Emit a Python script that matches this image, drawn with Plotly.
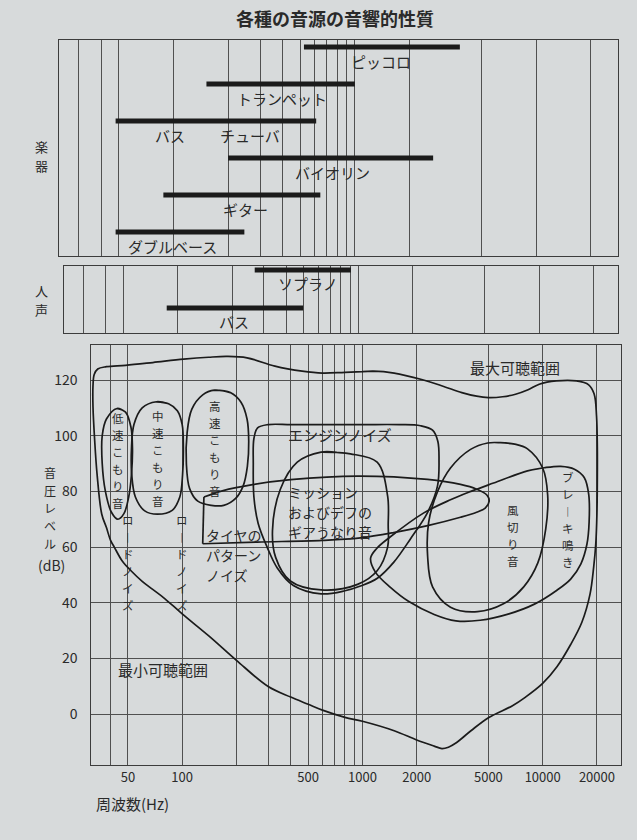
import math
import plotly.graph_objects as go

# ---------------- data ----------------
TITLE = "各種の音源の音響的性質"

INSTRUMENTS = ["ピッコロ", "トランペット", "バス チューバ", "バイオリン", "ギター", "ダブルベース"]
INST_LOW = [524, 152, 48, 200, 88, 48]
INST_HIGH = [3790, 1000, 612, 2700, 645, 246]

VOICES = ["ソプラノ", "バス"]
VOICE_LOW = [267, 87]
VOICE_HIGH = [910, 495]

GRID_TOP = [30, 40, 50, 100, 200, 300, 400, 500, 600, 700, 800, 900, 1000, 2000, 5000, 10000, 20000]
GRID_BOTTOM = [40, 50, 100, 200, 300, 400, 500, 600, 700, 800, 900, 1000, 2000, 5000, 10000, 20000]
FREQ_TICKTEXT = ["", "50", "100", "", "", "", "500", "", "", "", "", "1000", "2000", "5000", "10000", "20000"]
DB_TICKS = [0, 20, 40, 60, 80, 100, 120]

# hearing area: max audible (top) + min audible (bottom), closed loop (Hz, dB)
OUTER_F = [1000, 1150, 1500, 2130, 2800, 3560, 4300, 5000, 6000, 7070, 8300, 9570, 11900, 15400, 18000,
           19300, 19900, 20100, 20100, 20000, 19700, 19200, 18300, 16500, 14300, 12000, 10000, 8000, 6800,
           5000, 4000, 3300, 3000, 2760, 2500, 2000, 1500, 1000, 800, 600, 500, 400, 300, 200, 141, 100,
           80, 68.6, 60, 52, 46.5, 42, 40, 38, 35.8, 33.7, 32.7, 32, 32, 32.5, 34, 38, 48.5, 68.7, 102,
           140, 177, 229, 327, 463, 600, 800, 1000]
OUTER_DB = [123, 123.2, 122.5, 120.2, 117.8, 115.5, 114.2, 113.7, 114, 114.9, 116.5, 118.5, 119.7, 119.7, 118.3,
            115, 107, 96, 84, 72, 61, 53, 43, 33, 25, 17, 11, 6, 3,
            -1.3, -6, -10.4, -11.9, -12.4, -11.5, -9.3, -6, -2.6, -1.2, 1.4, 3.5, 6.1, 9.9, 19.3, 28, 36,
            41.5, 44.8, 47.7, 51.5, 55, 60, 62.5, 67, 71.8, 86.3, 98.3, 110.4, 118, 122, 124, 124.8, 125.3, 126.3, 127.5,
            128.2, 128.5, 128, 125, 123.2, 122.5, 122.8, 123]

LOW_F = [43.5, 48.5, 52, 53, 52.3, 50.5, 47.5, 44, 40.5, 37.5, 36, 36, 38, 43.5]
LOW_DB = [109.8, 108.5, 103, 95, 86, 78, 72, 70, 72.5, 80, 90, 100, 106, 109.8]

MID_F = [72, 84, 94, 100, 101.5, 100.5, 97, 88, 73, 62, 55, 52.5, 52.3, 54, 60, 72]
MID_DB = [112.2, 111.5, 109, 104, 96, 86, 78, 73.2, 71.8, 73, 78, 86, 95, 104, 110, 112.2]

HIGH_F = [151, 185, 212, 229, 234, 230, 218, 198, 170, 145, 122, 110, 105.5, 106.5, 113, 130, 151]
HIGH_DB = [116.4, 115.5, 112, 106, 98, 89, 82, 77.5, 75, 75, 76.5, 81, 90, 101, 109.5, 114.7, 116.4]

ENGINE_F = [600, 1000, 1600, 2100, 2450, 2620, 2660, 2610, 2300, 1850, 1490, 1210, 975, 800, 590, 414,
            337, 296, 264, 250, 248, 250, 262, 300, 400, 600]
ENGINE_DB = [104, 104, 104, 103.6, 102, 98, 91, 82, 72.5, 63, 54.5, 48.8, 46, 44.3, 43.2, 46.2,
             52.5, 60, 68.5, 78, 90, 99, 102.8, 104, 104, 104]

MISSION_F = [590, 720, 858, 1207, 1380, 1390, 1380, 1207, 940, 590, 398, 330, 317, 350, 435, 590]
MISSION_DB = [94.1, 94.0, 93.5, 90.5, 78.3, 68, 60, 51.5, 46.6, 44.6, 47.8, 56.3, 66, 80.7, 90.5, 94.1]

TIRE_F = [132, 130, 260, 600, 975, 1490, 2300, 3500, 4300, 4800, 5050, 4900, 4300, 3500, 2300, 940,
          400, 250, 167, 132]
TIRE_DB = [78.0, 61.2, 61.8, 62.4, 63.3, 65.2, 67.7, 70.7, 72.5, 74, 76.5, 78.7, 80.8, 82.5, 84.3, 85.5,
           84.2, 82.5, 80.2, 78.0]

WIND_F = [5840, 7000, 8240, 10000, 10660, 10400, 9400, 7850, 6060, 4350, 3080, 2450, 2300, 2330, 2610,
          3080, 3980, 4950, 5840]
WIND_DB = [97.5, 97.0, 95.3, 88.4, 78.7, 66.5, 54.3, 45.7, 39.6, 36.8, 38.4, 45.7, 56.7, 68.9, 79.9,
           88.4, 95.1, 97.4, 97.5]

BRAKE_F = [8240, 10200, 12600, 15000, 17000, 18000, 18100, 17600, 16300, 14300, 12000, 9000, 6500, 4500,
           3300, 2500, 1800, 1430, 1180, 1110, 1200, 1430, 2180, 3080, 4000, 5340, 8240]
BRAKE_DB = [87.4, 88.5, 89, 88, 85, 79, 69, 61, 54, 48.5, 44.5, 39.5, 36, 33.7,
            33.5, 35.8, 40.5, 45.5, 51, 56, 59.5, 63.7, 72.2, 77, 80, 83, 87.4]

# ---------------- style / layout ----------------
W, H = 637, 840
BG = "#d7dadb"
INK = "#1b1b1b"
GRID = "#505050"
FRAME = "#3c3c3c"
TXT = "#2a2a2a"
FONT = "Noto Sans CJK JP"


def px(x):
    return x / W


def py(y):
    return 1 - y / H


fig = go.Figure()

# bars (instruments, voices)
for i, (lo, hi) in enumerate(zip(INST_LOW, INST_HIGH)):
    fig.add_trace(go.Scatter(x=[lo, hi], y=[i, i], mode="lines", line=dict(color=INK, width=5),
                             xaxis="x", yaxis="y", showlegend=False, hoverinfo="skip"))
for i, (lo, hi) in enumerate(zip(VOICE_LOW, VOICE_HIGH)):
    fig.add_trace(go.Scatter(x=[lo, hi], y=[i, i], mode="lines", line=dict(color=INK, width=5),
                             xaxis="x2", yaxis="y2", showlegend=False, hoverinfo="skip"))


def closed(fx, fy):
    # wrap one more point so the smoothed loop closes without a kink
    return list(fx) + [fx[1]], list(fy) + [fy[1]]


def curve(fx, fy, shape="spline"):
    fig.add_trace(go.Scatter(x=fx, y=fy, mode="lines",
                             line=dict(color=INK, width=1.7, shape=shape, smoothing=1.0),
                             xaxis="x3", yaxis="y3", showlegend=False, hoverinfo="skip"))


for fx, fy in [(OUTER_F, OUTER_DB), (LOW_F, LOW_DB), (MID_F, MID_DB), (HIGH_F, HIGH_DB),
               (ENGINE_F, ENGINE_DB), (MISSION_F, MISSION_DB), (WIND_F, WIND_DB), (BRAKE_F, BRAKE_DB)]:
    cx, cy = closed(fx, fy)
    curve(cx, cy)

# tire pattern noise: straight left edge + smooth remainder
curve(TIRE_F[:2], TIRE_DB[:2], shape="linear")
curve(TIRE_F[1:], TIRE_DB[1:])

axis_common = dict(type="log", showgrid=True, gridcolor=GRID, gridwidth=1, showline=True,
                   linecolor=FRAME, linewidth=1.3, mirror=True, zeroline=False, ticks="",
                   fixedrange=True)
yaxis_common = dict(showgrid=False, showline=True, linecolor=FRAME, linewidth=1.3, mirror=True,
                    zeroline=False, ticks="", showticklabels=False, fixedrange=True)

fig.update_layout(
    width=W, height=H, margin=dict(l=0, r=0, t=0, b=0),
    paper_bgcolor=BG, plot_bgcolor=BG, showlegend=False,
    font=dict(family=FONT, color=TXT, size=14),
    xaxis=dict(axis_common, domain=[px(59), px(618)], anchor="y",
               range=[math.log10(23.4), math.log10(28200)], tickvals=GRID_TOP, showticklabels=False),
    yaxis=dict(yaxis_common, domain=[py(256), py(40)], anchor="x", range=[5.65, -0.19]),
    xaxis2=dict(axis_common, domain=[px(64), px(618)], anchor="y2",
                range=[math.log10(23.5), math.log10(27350)], tickvals=GRID_TOP, showticklabels=False),
    yaxis2=dict(yaxis_common, domain=[py(333), py(266)], anchor="x2", range=[1.66, -0.105]),
    xaxis3=dict(axis_common, domain=[px(90.5), px(621)], anchor="y3",
                range=[math.log10(31), math.log10(27200)], tickvals=GRID_BOTTOM,
                ticktext=FREQ_TICKTEXT, tickfont=dict(size=13, color=TXT), ticklabelstandoff=0),
    yaxis3=dict(domain=[py(765), py(345)], anchor="x3", range=[-18.3, 132.6],
                tickvals=DB_TICKS, ticktext=[str(v) for v in DB_TICKS], showgrid=True,
                gridcolor=GRID, gridwidth=1, showline=True, linecolor=FRAME, linewidth=1.3,
                mirror=True, zeroline=False, ticks="", tickfont=dict(size=14, color=TXT),
                ticklabelstandoff=9, fixedrange=True),
)

ann = []


def text(t, x, y, xref, yref, size=15, xanchor="center", yshift=0, weight="normal"):
    ann.append(dict(text=t, x=x, y=y, xref=xref, yref=yref, showarrow=False, xanchor=xanchor,
                    yanchor="middle", yshift=yshift, borderpad=0,
                    font=dict(family=FONT, size=size, color=TXT, weight=weight)))


def vtext(t, x, y, xref, yref, size=11.5, spacing=17):
    # vertical (tategaki) text: one character per row
    chars = [("︱" if c == "ー" else c) for c in t]
    n = len(chars)
    for i, c in enumerate(chars):
        text(c, x, y, xref, yref, size=size, yshift=-(i - (n - 1) / 2) * spacing)


def mtext(lines, x, y, xref, yref, size=13.5, spacing=20, xanchor="left"):
    # stacked horizontal lines
    n = len(lines)
    for i, s in enumerate(lines):
        text(s, x, y, xref, yref, size=size, xanchor=xanchor, yshift=-(i - (n - 1) / 2) * spacing)


# title
text(TITLE, px(335), py(18), "paper", "paper", size=18, weight="bold")

# instrument labels
inst_label_f = {"ピッコロ": 1390, "トランペット": 397, "バイオリン": 752, "ギター": 250, "ダブルベース": 99}
for i, name in enumerate(INSTRUMENTS):
    if name == "バス チューバ":
        text("バス", math.log10(96), i + 0.38, "x", "y")
        text("チューバ", math.log10(264), i + 0.38, "x", "y")
    else:
        text(name, math.log10(inst_label_f[name]), i + 0.38, "x", "y")

voice_label_f = {"ソプラノ": 525, "バス": 204}
for i, name in enumerate(VOICES):
    text(name, math.log10(voice_label_f[name]), i + 0.35, "x2", "y2")

# side captions
vtext("楽器", px(41), py(156), "paper", "paper", size=13, spacing=19.5)
vtext("人声", px(41), py(300), "paper", "paper", size=13, spacing=19.5)
vtext("音圧レベル", px(50), py(508), "paper", "paper", size=12, spacing=17.8)
text("(dB)", px(51), py(565), "paper", "paper", size=14)
text("周波数(Hz)", px(95), py(803), "paper", "paper", size=15, xanchor="left")

# bottom panel labels
L = math.log10
text("最大可聴範囲", L(7000), 124.5, "x3", "y3", size=15)
text("最小可聴範囲", L(78), 16, "x3", "y3", size=15)
text("エンジンノイズ", L(750), 100.3, "x3", "y3", size=15)
mtext(["ミッション", "およびデフの", "ギアうなり音"], L(381), 72.5, "x3", "y3", size=14)
mtext(["タイヤの", "パターン", "ノイズ"], L(134), 57.3, "x3", "y3", size=14)
vtext("低速こもり音", L(44), 91.0, "x3", "y3")
vtext("中速こもり音", L(73), 92.0, "x3", "y3")
vtext("高速こもり音", L(152), 95.5, "x3", "y3")
vtext("ロードノイズ", L(50), 54.5, "x3", "y3")
vtext("ロードノイズ", L(100), 54.5, "x3", "y3")
vtext("風切り音", L(6870), 64, "x3", "y3")
vtext("ブレーキ鳴き", L(13900), 70, "x3", "y3")

fig.update_layout(annotations=ann)
fig.write_html("out.html", config={"displayModeBar": False},
               post_script="document.body.style.margin='0';document.body.style.overflow='hidden';")
